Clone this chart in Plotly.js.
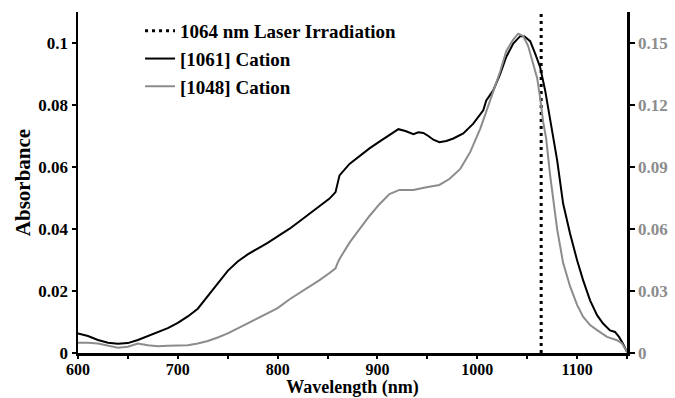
<!DOCTYPE html>
<html>
<head>
<meta charset="utf-8">
<script src="https://cdn.plot.ly/plotly-3.0.1.min.js"></script>
<style>html,body{margin:0;padding:0;background:#fff;}#chart{width:675px;height:398px;}</style>
</head>
<body>
<div id="chart"></div>
<script>
// [1061] Cation (left axis)
const wl1061 = [600,610,620,630,640,650,660,670,680,690,700,710,720,730,740,750,760,770,780,790,800,812,822,832,842,852,858,860,862,872,882,892,902,909,915,921,928,936,941,946,951,956,962,969,976,986,996,1003,1006,1009,1016,1023,1029,1036,1043,1047,1053,1058,1063,1068,1073,1080,1086,1093,1100,1106,1113,1120,1126,1133,1138,1142,1146,1150];
const abs1061 = [0.0063,0.0055,0.0042,0.0033,0.0030,0.0032,0.0042,0.0054,0.0066,0.0080,0.0097,0.0118,0.0143,0.0183,0.0224,0.0265,0.0295,0.0318,0.0337,0.0355,0.0376,0.0401,0.0425,0.0450,0.0474,0.0498,0.0519,0.0545,0.0573,0.0610,0.0636,0.0660,0.0682,0.0697,0.0710,0.0722,0.0716,0.0706,0.0712,0.0710,0.0700,0.0688,0.0680,0.0684,0.0692,0.0708,0.0740,0.0770,0.0783,0.0815,0.0847,0.0900,0.0955,0.0998,0.1022,0.1022,0.1006,0.0966,0.0922,0.0847,0.0758,0.0622,0.0482,0.0385,0.0299,0.0235,0.0170,0.0122,0.0095,0.0073,0.0068,0.0052,0.0030,0.0003];
// [1048] Cation (right axis)
const wl1048 = [600,610,620,630,640,650,660,670,680,690,700,710,720,730,740,750,760,770,780,790,800,812,822,832,842,852,858,860,862,872,882,892,902,912,922,936,949,962,972,983,993,1003,1009,1016,1023,1029,1036,1041,1046,1051,1056,1060,1063,1066,1069,1073,1080,1086,1093,1100,1106,1113,1120,1130,1140,1145,1150];
const abs1048 = [0.0049,0.0050,0.0046,0.0036,0.0026,0.0030,0.0046,0.0038,0.0033,0.0035,0.0036,0.0037,0.0046,0.0058,0.0075,0.0095,0.0119,0.0144,0.0168,0.0195,0.0217,0.0260,0.0290,0.0322,0.0353,0.0387,0.0410,0.0435,0.0455,0.0534,0.0599,0.0663,0.0720,0.0769,0.0789,0.0789,0.0802,0.0813,0.0842,0.0891,0.0973,0.1086,0.1168,0.1265,0.1363,0.1460,0.1517,0.1545,0.1534,0.1485,0.1403,0.1330,0.1233,0.1119,0.1038,0.0859,0.0599,0.0436,0.0322,0.0233,0.0176,0.0135,0.0111,0.0078,0.0062,0.0046,0.0005];
// Laser line
const laserX = [1064,1064];
const laserY = [0,0.11];
const legendNames = ['1064 nm Laser Irradiation','[1061] Cation','[1048] Cation'];

const FONT = 'Liberation Serif';
const GRAY = '#8c8c8c';

const traces = [
  {x: laserX, y: laserY, mode:'lines', name: legendNames[0], legendgroup:'a',
   line:{color:'#000', width:3, dash:'3px,4px'}},
  {x: wl1061, y: abs1061, mode:'lines', name: legendNames[1], legendgroup:'b',
   line:{color:'#000', width:2}},
  {x: wl1048, y: abs1048, mode:'lines', name: legendNames[2], legendgroup:'c', yaxis:'y2',
   line:{color:GRAY, width:2}}
];

const tickFont = {family: FONT, size: 16, weight: 'bold', color:'#000'};
const layout = {
  width: 675, height: 398,
  margin: {l:78, r:48, t:12, b:45},
  paper_bgcolor:'#fff', plot_bgcolor:'#fff',
  font: {family: FONT},
  showlegend: true,
  legend: {x:0.113, y:1.0, xanchor:'left', yanchor:'top', tracegroupgap:0,
           font:{family:FONT, size:19, weight:'bold', color:'#000'}, bgcolor:'rgba(0,0,0,0)'},
  xaxis: {range:[600,1150], dtick:100, tick0:600, showgrid:false, zeroline:false,
          showline:true, linecolor:'#000', linewidth:2.5,
          ticks:'outside', ticklen:3, tickwidth:2, tickcolor:'#000', ticklabelstandoff:-3,
          minor:{dtick:50, ticks:'outside', ticklen:3, tickwidth:2, tickcolor:'#000'},
          tickfont: tickFont,
          title:{text:'Wavelength (nm)', standoff:3, font:{family:FONT, size:18, weight:'bold', color:'#000'}}},
  yaxis: {range:[0,0.11], dtick:0.02, tick0:0, showgrid:false, zeroline:false,
          showline:true, linecolor:'#000', linewidth:2.5,
          ticks:'outside', ticklen:4, tickwidth:2, tickcolor:'#000',
          tickfont: {family: FONT, size: 17, weight: 'bold', color:'#000'},
          title:{text:'Absorbance', standoff:2, font:{family:FONT, size:21, weight:'bold', color:'#000'}}},
  yaxis2: {range:[0,0.165], dtick:0.03, tick0:0, overlaying:'y', side:'right',
           showgrid:false, zeroline:false,
           showline:true, linecolor:'#000', linewidth:2.5,
           ticks:'outside', ticklen:5, tickwidth:2, tickcolor:'#000',
           tickfont:{family: FONT, size: 17, weight:'bold', color: GRAY}}
};

Plotly.newPlot('chart', traces, layout, {displayModeBar:false, staticPlot:true});
</script>
</body>
</html>
